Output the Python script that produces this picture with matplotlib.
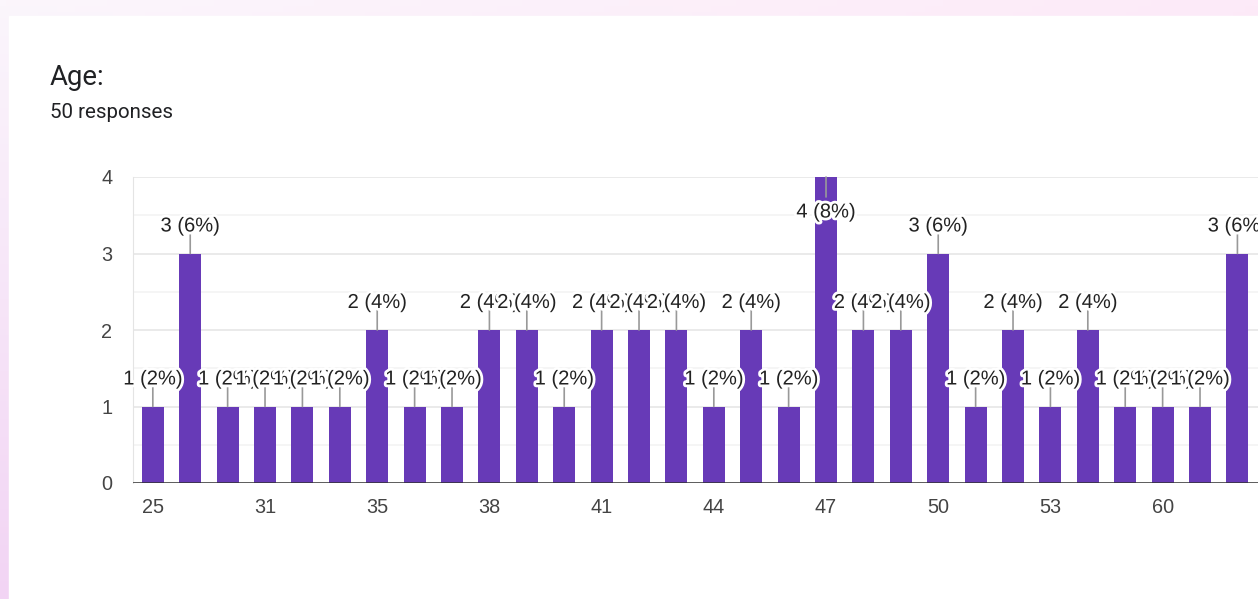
import numpy as np
import matplotlib.pyplot as plt
import matplotlib.patheffects as pe
from matplotlib.patches import Rectangle
from matplotlib.ticker import MultipleLocator

# Age answers and how many people gave each
ages = ["25", "27", "29", "31", "32", "34", "35", "36", "37", "38",
        "39", "40", "41", "42", "43", "44", "45", "46", "47", "48",
        "49", "50", "51", "52", "53", "55", "57", "60", "62", "64"]
counts = [1, 3, 1, 1, 1, 1, 2, 1, 1, 2,
          2, 1, 2, 2, 2, 1, 2, 1, 4, 2,
          2, 3, 1, 2, 1, 2, 1, 1, 1, 3]
total = 50

W, H = 1258, 599
fig = plt.figure(figsize=(W / 100, H / 100), dpi=100)

# page background: soft pink gradient behind the white card
bg = fig.add_axes([0, 0, 1, 1], zorder=-10)
tl = np.array([251, 246, 252]) / 255
tr = np.array([253, 234, 248]) / 255
bl = np.array([242, 212, 244]) / 255
br = np.array([248, 224, 245]) / 255
u = np.linspace(0, 1, 200)[None, :, None]
v = np.linspace(0, 1, 100)[:, None, None]
grad = (1 - v) * ((1 - u) * tl + u * tr) + v * ((1 - u) * bl + u * br)
bg.imshow(grad, extent=[0, 1, 0, 1], aspect="auto", origin="upper")
bg.add_patch(Rectangle((9 / W, 0), 1, 1 - 16 / H, color="white"))
bg.set_xlim(0, 1)
bg.set_ylim(0, 1)
bg.axis("off")

fig.text(50 / W, 1 - 85 / H, "Age:", fontsize=19.8, family="Roboto",
         color="#202124", va="baseline")
fig.text(50 / W, 1 - 118 / H, "50 responses", fontsize=14.8, family="Roboto",
         color="#202124", va="baseline")

left, right, top, bottom = 133, W, 177, 483
ax = fig.add_axes([left / W, 1 - bottom / H, (right - left) / W, (bottom - top) / H])
x = np.arange(len(ages))
ax.bar(x, counts, width=0.59, color="#673ab7", zorder=2)

ax.set_xlim(-0.53, -0.53 + (right - left) / 37.4)
ax.set_ylim(0, 4)
ax.yaxis.set_major_locator(MultipleLocator(1))
ax.yaxis.set_minor_locator(MultipleLocator(0.5))
ax.grid(axis="y", which="major", color="#e6e6e6", lw=1.2, zorder=0)
ax.grid(axis="y", which="minor", color="#f3f3f3", lw=1.2, zorder=0)
ax.axhline(0, color="#333333", lw=1.8, zorder=3)

ax.set_xticks(x[::3])
ax.set_xticklabels(ages[::3])
for s in ["top", "right", "bottom"]:
    ax.spines[s].set_visible(False)
ax.spines["left"].set_color("#e4e4e4")
ax.tick_params(axis="both", which="both", length=0, labelsize=14.3,
               labelcolor="#444444")
ax.tick_params(axis="y", pad=15)
ax.tick_params(axis="x", pad=11)
for lab in ax.get_xticklabels() + ax.get_yticklabels():
    lab.set_family("Liberation Sans")

# value labels on leader stems; the tallest bar gets its label inside
halo = [pe.withStroke(linewidth=4, foreground="white")]
for i, c in enumerate(counts):
    sign = -1 if c >= ax.get_ylim()[1] else 1
    ax.annotate("", xy=(i, c), xytext=(0, sign * 14.4), textcoords="offset points",
                arrowprops=dict(arrowstyle="-", color="#999999", lw=1.2,
                                shrinkA=0, shrinkB=0), zorder=4)
    ax.annotate(f"{c} ({c * 100 // total}%)", xy=(i, c),
                xytext=(0, 19.8 if sign > 0 else -25.2),
                textcoords="offset points", ha="center", va="center",
                fontsize=14.5, family="Liberation Sans", color="#222222",
                path_effects=halo, zorder=5, annotation_clip=False)

fig.savefig("out.png", dpi=100)
